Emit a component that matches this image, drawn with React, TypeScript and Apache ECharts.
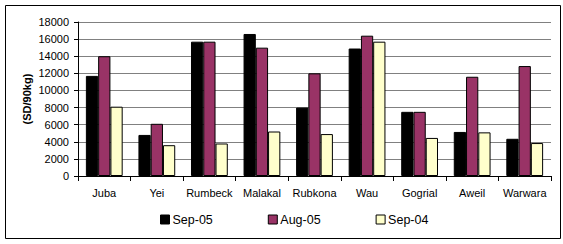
import React, { useEffect, useRef } from "react";
import * as echarts from "echarts";

const categories = ["Juba", "Yei", "Rumbeck", "Malakal", "Rubkona", "Wau", "Gogrial", "Aweil", "Warwara"];
const sep05 = [11700, 4800, 15700, 16600, 8000, 14900, 7500, 5150, 4350];
const aug05 = [14000, 6100, 15700, 15000, 12000, 16400, 7500, 11600, 12850];
const sep04 = [8100, 3600, 3800, 5200, 4900, 15700, 4450, 5100, 3850];
const seriesNames = ["Sep-05", "Aug-05", "Sep-04"];
const colors = ["#000000", "#993366", "#FFFFCC"];

export default function App() {
  const ref = useRef<HTMLDivElement>(null);
  useEffect(() => {
    if (!ref.current) return;
    const chart = echarts.init(ref.current, null, { renderer: "svg" });
    const font = "Liberation Sans, Arial, sans-serif";
    const mk = (name: string, data: number[], color: string) => ({
      name,
      type: "bar",
      data,
      barGap: "0%",
      barCategoryGap: "30%",
      itemStyle: { color, borderColor: "#000", borderWidth: 1 },
    });
    chart.setOption({
      animation: false,
      backgroundColor: "#fff",
      textStyle: { fontFamily: font },
      grid: { left: 78, right: 12, top: 22, bottom: 68 },
      graphic: [
        {
          type: "rect",
          shape: { x: 5.5, y: 5.5, width: 555, height: 233 },
          style: { fill: "none", stroke: "#000", lineWidth: 1 },
          silent: true,
          z: 100,
        },
      ],
      legend: {
        data: seriesNames,
        bottom: 13,
        left: 155,
        itemWidth: 9,
        itemHeight: 9,
        itemGap: 55,
        icon: "rect",
        itemStyle: { borderColor: "#000", borderWidth: 1 },
        textStyle: { fontSize: 12.5, color: "#000", fontFamily: font, padding: [0, 0, 0, -2] },
      },
      xAxis: {
        type: "category",
        data: categories,
        axisLine: { lineStyle: { color: "#000", width: 1 } },
        axisTick: { show: true, inside: false, length: 5, alignWithLabel: false, lineStyle: { color: "#000" } },
        axisLabel: { fontSize: 11, color: "#000", margin: 11, fontFamily: font, interval: 0 },
      },
      yAxis: {
        type: "value",
        min: 0,
        max: 18000,
        interval: 2000,
        name: "(SD/90kg)",
        nameLocation: "middle",
        nameRotate: 90,
        nameGap: 46,
        nameMoveOverlap: false,
        nameTextStyle: { fontSize: 11, fontWeight: "bold", color: "#000", fontFamily: font },
        axisLine: { show: true, lineStyle: { color: "#000", width: 1 } },
        axisTick: { show: true, length: 4, lineStyle: { color: "#000" } },
        axisLabel: { fontSize: 11, color: "#000", margin: 9, fontFamily: font, formatter: (v: number) => String(v) },
        splitLine: { show: true, lineStyle: { color: "#808080", width: 1 } },
      },
      series: [
        mk(seriesNames[0], sep05, colors[0]),
        mk(seriesNames[1], aug05, colors[1]),
        mk(seriesNames[2], sep04, colors[2]),
      ],
    });
    return () => chart.dispose();
  }, []);
  return (
    <div
      ref={ref}
      style={{ position: "fixed", left: 0, top: 0, width: 563, height: 244 }}
    />
  );
}
